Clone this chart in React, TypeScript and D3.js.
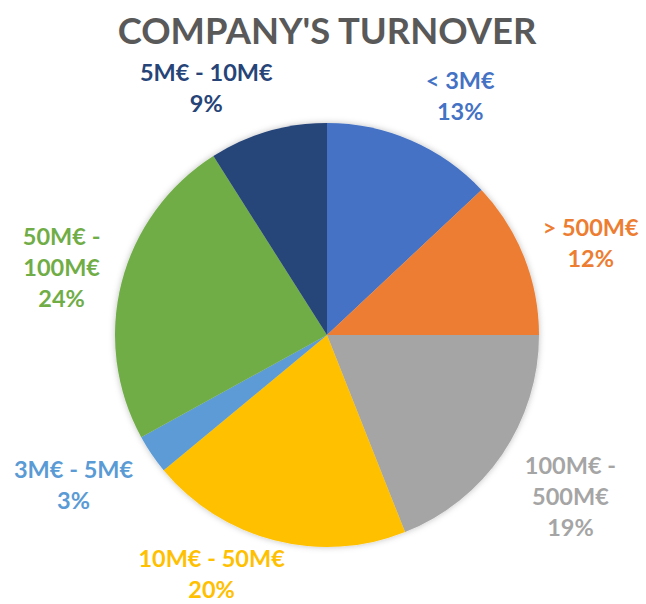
import React from "react";
import * as d3 from "d3";

const categories = ["< 3M€", "> 500M€", "100M€ - 500M€", "10M€ - 50M€", "3M€ - 5M€", "50M€ - 100M€", "5M€ - 10M€"];
const values = [13, 12, 19, 20, 3, 24, 9];
const labelLines = [["< 3M€"], ["> 500M€"], ["100M€ -", "500M€"], ["10M€ - 50M€"], ["3M€ - 5M€"], ["50M€ -", "100M€"], ["5M€ - 10M€"]];
const colors = ["#4472C4", "#ED7D31", "#A5A5A5", "#FFC000", "#5B9BD5", "#70AD47", "#264478"];
// label layout nudges (px) applied after placing along slice mid-angle
const nudges = [[24, 14], [8, 10], [16, 7], [-47, -27], [-26, -4], [1, 1], [-44, 17]];

const W = 646, H = 604;
const cx = 327, cy = 335, R = 212, labelR = 275;
const lineH = 31;

export default function App() {
  const pie = d3.pie<number>().sort(null).value(d => d)(values);
  const arc = d3.arc<d3.PieArcDatum<number>>().innerRadius(0).outerRadius(R);
  const total = d3.sum(values);
  return (
    <svg width={W} height={H} style={{ position: "absolute", left: 0, top: 0, fontFamily: "Lato, 'Open Sans', sans-serif" }}>
      <defs>
        <filter id="sh" x="-20%" y="-20%" width="140%" height="140%">
          <feDropShadow dx="0" dy="0" stdDeviation="3" floodColor="#000" floodOpacity="0.25" />
        </filter>
      </defs>
      <rect width={W} height={H} fill="#fff" />
      <text x={cx} y={44} textAnchor="middle" fontSize={36.4} fontWeight={700} fill="#595959">COMPANY'S TURNOVER</text>
      <g transform={`translate(${cx},${cy})`} filter="url(#sh)">
        {pie.map((p, i) => (
          <path key={categories[i]} d={arc(p) || ""} fill={colors[i]} />
        ))}
      </g>
      {pie.map((p, i) => {
        const a = (p.startAngle + p.endAngle) / 2;
        const lx = cx + labelR * Math.sin(a) + nudges[i][0];
        const ly = cy - labelR * Math.cos(a) + nudges[i][1];
        const lines = [...labelLines[i], `${Math.round((values[i] / total) * 100)}%`];
        const y0 = ly - ((lines.length - 1) * lineH) / 2;
        return (
          <text key={"l" + i} x={lx} textAnchor="middle" fontSize={23.5} fontWeight={700} fill={colors[i]}>
            {lines.map((t, j) => (
              <tspan key={j} x={lx} y={y0 + j * lineH} dy="0.35em">{t}</tspan>
            ))}
          </text>
        );
      })}
    </svg>
  );
}
